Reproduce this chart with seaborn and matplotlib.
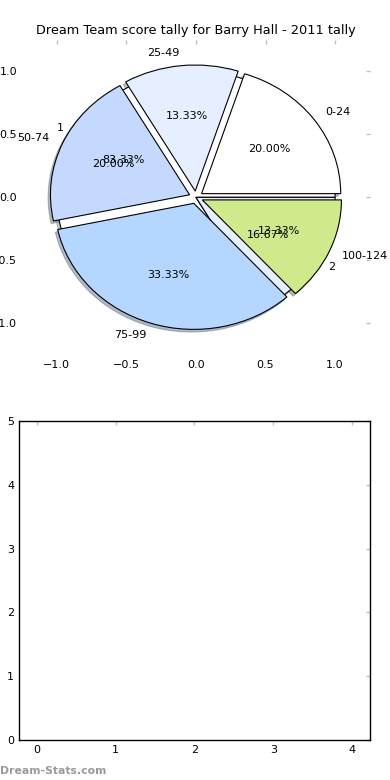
"""Dream Team score tally pie for Barry Hall (2011), with empty companion panel."""

import matplotlib

matplotlib.use("Agg")
import matplotlib.pyplot as plt
import seaborn as sns

# Score bands and how often each was hit.
bands = ["0-24", "25-49", "50-74", "75-99", "100-124"]
band_counts = [3, 2, 3, 5, 2]

# Second tally overlaid on the same axes.
groups = ["1", "2"]
group_counts = [5, 1]

palette = ["#ffffff", "#e6efff", "#c5d9ff", "#b5d7ff", "#ceea8c"]

# Bottom panel tick values (panel is empty).
x_ticks = [0, 1, 2, 3, 4]
y_ticks = [0, 1, 2, 3, 4, 5]

sns.set_style("white")
plt.rcParams["font.family"] = ["DejaVu Sans"]
plt.rcParams["text.color"] = "black"

fig = plt.figure(figsize=(3.9, 7.8), dpi=100)
ax_pie = fig.add_axes([0.0564, 0.545, 0.892, 0.404])
ax_bar = fig.add_axes([0.0487, 0.0513, 0.90, 0.409])

tick_kw = dict(direction="in", length=3, width=1, color="#c0c0c0",
               labelsize=8, labelcolor="black", top=True, right=True)

shadow_kw = dict(ox=-0.012, oy=-0.015, shade=0.45)
wedge_kw = dict(edgecolor="black", linewidth=0.8)

# Second tally drawn first so it sits behind the main pie.
ax_pie.pie(group_counts, labels=groups, colors=palette[:2], autopct="%1.2f%%",
           shadow=shadow_kw, wedgeprops=wedge_kw,
           textprops=dict(fontsize=8, color="black"))
ax_pie.pie(band_counts, labels=bands, colors=palette, autopct="%1.2f%%",
           explode=[0.05] * len(bands), shadow=shadow_kw, wedgeprops=wedge_kw,
           textprops=dict(fontsize=8, color="black"))
ax_pie.set_aspect("auto")
ax_pie.set_xlim(-1.25, 1.25)
ax_pie.set_ylim(-1.25, 1.25)
ax_pie.set_xticks([-1.0, -0.5, 0.0, 0.5, 1.0])
ax_pie.set_yticks([-1.0, -0.5, 0.0, 0.5, 1.0])
ax_pie.set_xticklabels(["\u22121.0", "\u22120.5", "0.0", "0.5", "1.0"])
ax_pie.set_yticklabels(["\u22121.0", "\u22120.5", "0.0", "0.5", "1.0"])
ax_pie.tick_params(**tick_kw)
ax_pie.set_frame_on(False)
ax_pie.set_title("Dream Team score tally for Barry Hall - 2011 tally",
                 fontsize=9.3, pad=4, color="black")

ax_bar.set_xlim(-0.23, 4.23)
ax_bar.set_ylim(0, 5)
ax_bar.set_xticks(x_ticks)
ax_bar.set_yticks(y_ticks)
ax_bar.tick_params(**tick_kw)
for spine in ax_bar.spines.values():
    spine.set_color("black")
    spine.set_linewidth(1.0)

fig.text(0.0, 0.008, "Dream-Stats.com", color="#9a9a9a", fontsize=7.8, fontweight="bold")

fig.savefig("out.png", dpi=100)
